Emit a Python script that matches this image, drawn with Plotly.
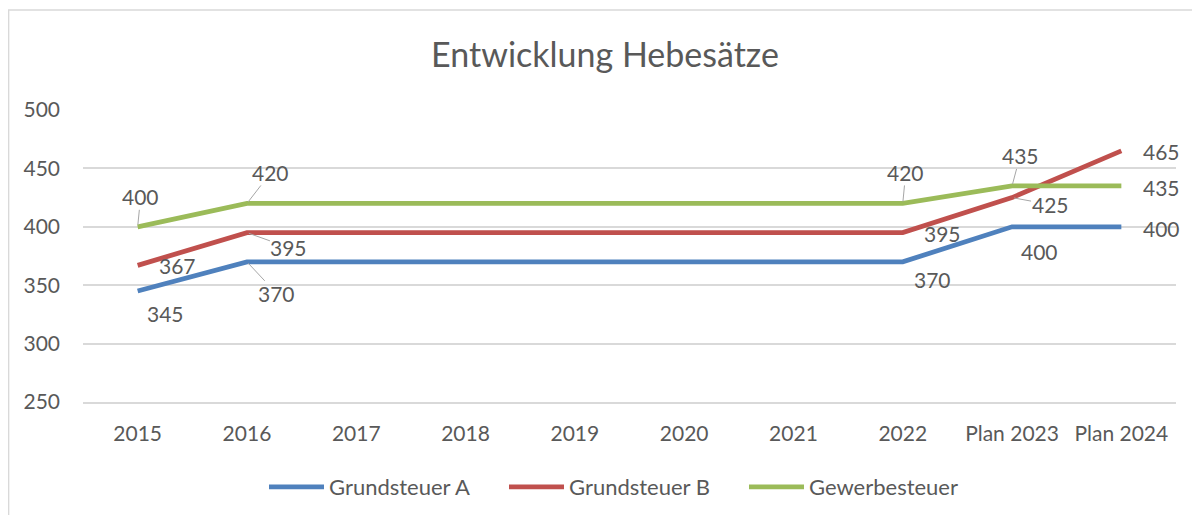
import plotly.graph_objects as go

categories = ["2015", "2016", "2017", "2018", "2019", "2020", "2021", "2022", "Plan 2023", "Plan 2024"]
grundsteuer_a = [345, 370, 370, 370, 370, 370, 370, 370, 400, 400]
grundsteuer_b = [367, 395, 395, 395, 395, 395, 395, 395, 425, 465]
gewerbesteuer = [400, 420, 420, 420, 420, 420, 420, 420, 435, 435]
y_ticks = [250, 300, 350, 400, 450, 500]

series = [
    ("Grundsteuer A", grundsteuer_a, "#4F81BD"),
    ("Grundsteuer B", grundsteuer_b, "#C0504D"),
    ("Gewerbesteuer", gewerbesteuer, "#9BBB59"),
]

# label placement (pixel offsets dx, dy(down), leader line) per series index -> point index
label_style = {
    0: {0: (28, 22, False), 1: (30, 32, True), 7: (30, 18, False), 8: (27, 25, False), 9: (40, 2, False)},
    1: {0: (40, 0, False), 1: (42, 15, True), 7: (40, 1, False), 8: (38, 7, True), 9: (40, 1, False)},
    2: {0: (3, -30, True), 1: (24, -31, True), 7: (3, -31, True), 8: (8, -30, True), 9: (40, 2, False)},
}

FONT = "Lato"
TXT = "#595959"
W, H = 1200, 515
OFF = 8  # page body margin

fig = go.Figure()
annotations = []
for si, (name, vals, color) in enumerate(series):
    fig.add_trace(go.Scatter(
        x=categories, y=vals, name=name, mode="lines",
        line=dict(color=color, width=4.8), hoverinfo="skip",
    ))
    for pi, (dx, dy, leader) in label_style[si].items():
        if leader:
            annotations.append(dict(
                x=pi, y=vals[pi], xref="x", yref="y", text=str(vals[pi]),
                showarrow=True, arrowhead=0, arrowwidth=1, arrowcolor="#A6A6A6",
                ax=dx, ay=dy, standoff=2, borderpad=0,
                font=dict(family=FONT, size=21, color=TXT),
            ))
        else:
            annotations.append(dict(
                x=pi, y=vals[pi], xref="x", yref="y", text=str(vals[pi]),
                showarrow=False, xshift=dx, yshift=-dy,
                font=dict(family=FONT, size=21, color=TXT),
            ))

fig.update_layout(
    width=W, height=H,
    margin=dict(l=83 - OFF, r=W + OFF - 1176, t=110 - OFF, b=H + OFF - 402, autoexpand=False),
    paper_bgcolor="white", plot_bgcolor="white",
    font=dict(family=FONT, size=21, color=TXT),
    title=dict(text="Entwicklung Hebesätze", x=(605 - OFF) / W, xref="container", xanchor="center",
               y=1 - (55 - OFF) / H, yref="container", yanchor="middle",
               font=dict(family=FONT, size=34, color=TXT)),
    xaxis=dict(type="category", categoryorder="array", categoryarray=categories,
               range=[-0.5, len(categories) - 0.5], showgrid=False, showline=True,
               linecolor="#D9D9D9", linewidth=1.5, ticks="", ticklabelstandoff=12,
               tickfont=dict(family=FONT, size=21, color=TXT), zeroline=False),
    yaxis=dict(range=[250, 500], tickvals=y_ticks, showgrid=True, gridcolor="#D9D9D9",
               gridwidth=1.5, zeroline=False, showline=False, ticks="", ticklabelstandoff=22,
               tickfont=dict(family=FONT, size=21, color=TXT)),
    legend=dict(orientation="h", x=(624 - OFF) / W, xref="container", xanchor="center",
                y=1 - (487 - OFF) / H, yref="container", yanchor="middle",
                font=dict(family=FONT, size=22, color=TXT), itemwidth=55,
                entrywidth=170, tracegroupgap=0),
    annotations=annotations,
    showlegend=True,
    shapes=[dict(type="rect", xref="paper", yref="paper",
                 x0=(8.6 - 83) / 1093, x1=1.3, y0=-0.6, y1=(402 - 10) / 292,
                 line=dict(color="#D9D9D9", width=1.5), layer="below")],
)

fig.write_html("out.html")
